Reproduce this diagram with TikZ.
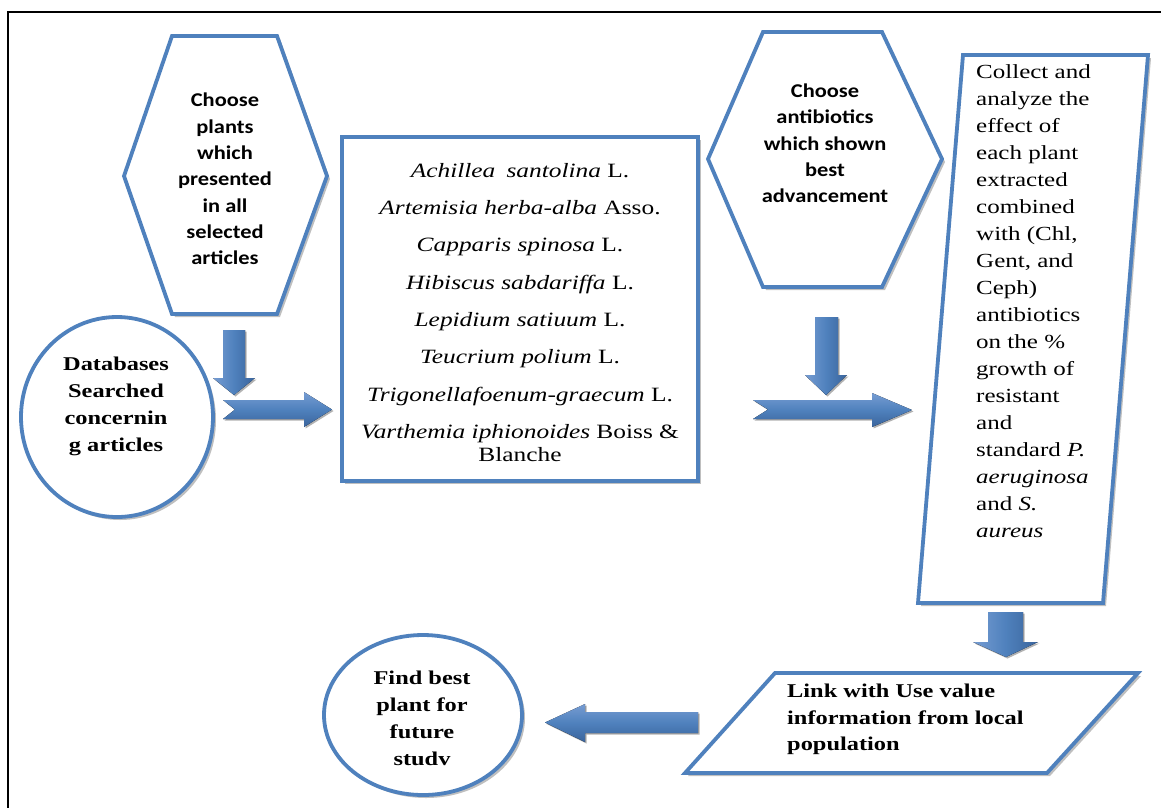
\documentclass[tikz,border=0pt]{standalone}
\usepackage{fontspec}
\setmainfont{Liberation Serif}
\newfontfamily\camf[FakeStretch=1.25]{Liberation Serif}
\newfontfamily\calf[FakeStretch=1.15]{Carlito}
\usetikzlibrary{shadows}
\definecolor{obl}{RGB}{79,129,189}
\definecolor{obllight}{RGB}{118,156,210}
\definecolor{obldark}{RGB}{58,100,156}
\tikzset{
  shapeline/.style={draw=obl, line width=3.8pt, fill=white, line join=miter,
    drop shadow={shadow xshift=3pt, shadow yshift=-3pt, fill=black!50, opacity=.5}},
  harrow/.style={top color=obllight, bottom color=obldark, middle color=obl,
    drop shadow={shadow xshift=1.5pt, shadow yshift=-1.5pt, fill=black!60, opacity=.5}},
  varrow/.style={left color=obllight, right color=obldark, middle color=obl,
    drop shadow={shadow xshift=1.5pt, shadow yshift=-1.5pt, fill=black!60, opacity=.5}},
  hextext/.style={align=center, inner sep=0pt, font=\calf\bfseries\fontsize{19.5}{26.3}\selectfont},
  circtext/.style={align=center, inner sep=0pt, font=\camf\bfseries\fontsize{19.5}{27}\selectfont},
  listtext/.style={align=center, inner sep=0pt, font=\camf\fontsize{20.3}{23}\selectfont},
  paratext/.style={align=left, inner sep=0pt, font=\camf\fontsize{20}{27}\selectfont},
  linktext/.style={align=left, inner sep=0pt, font=\camf\bfseries\fontsize{19.5}{26.5}\selectfont},
}
\begin{document}
\begin{tikzpicture}[x=1pt, y=-1pt]
\useasboundingbox (0,0) rectangle (1161,807);
\clip (0,0) rectangle (1161,807);
\fill[white] (0,0) rectangle (1161,807);
% outer frame (cut at right and bottom)
\draw[black, line width=2.6pt] (8,830) -- (8,12) -- (1190,12);

% hexagon 1
\draw[shapeline] (172,36) -- (277,36) -- (327,176) -- (277,314) -- (172,314) -- (124,176) -- cycle;
\node[hextext] (hexa) at (225,179) {Choose\\plants\\which\\presented\\in all\\selected\\articles};

% circle databases
\draw[shapeline] (117,417) ellipse [x radius=96, y radius=100];
\node[circtext] (db) at (116,406) {Databases\\Searched\\concernin\\g articles};

% species box
\draw[shapeline] (342,137) rectangle (698,481);
\node[listtext, anchor=north] (list) at (520,163) {%
\textit{Achillea\hspace{0.55em}santolina} L.\\[14.3pt]
\textit{Artemisia herba-alba} Asso.\\[14.3pt]
\textit{Capparis spinosa} L.\\[14.3pt]
\textit{Hibiscus sabdariffa} L.\\[14.3pt]
\textit{Lepidium satiuum} L.\\[14.3pt]
\textit{Teucrium polium} L.\\[14.3pt]
\textit{Trigonellafoenum-graecum} L.\\[14.3pt]
\textit{Varthemia iphionoides} Boiss \&\\
Blanche};

% hexagon 2
\draw[shapeline] (763,32) -- (882,32) -- (942,159) -- (882,287) -- (763,287) -- (708,159) -- cycle;
\node[hextext] (hexb) at (825,143.5) {Choose\\antibiotics\\which shown\\best\\advancement};

% tall parallelogram
\draw[shapeline] (963,55) -- (1148,55) -- (1103,603) -- (918,603) -- cycle;
\node[paratext, anchor=north west] (collect) at (976,64.5) {%
Collect and\\analyze the\\effect of\\each plant\\extracted\\combined\\with (Chl,\\Gent, and\\Ceph)\\antibiotics\\on the \%\\growth of\\resistant\\and\\standard \textit{P.}\\\textit{aeruginosa}\\and \textit{S.}\\\textit{aureus}};

% link parallelogram
\draw[shapeline] (775,673) -- (1138,673) -- (1047,773) -- (685,773) -- cycle;
\node[linktext, anchor=north west] (link) at (787,684) {Link with Use value\\information from local\\population};

% find best circle
\draw[shapeline] (423,715) ellipse [x radius=99, y radius=80];
\node[circtext] (find) at (422,718) {Find best\\plant for\\future\\studv};

% block arrows
\fill[varrow] (223,330) -- (245,330) -- (245,378) -- (255,378) -- (234,395) -- (213,378) -- (223,378) -- cycle;
\fill[harrow] (223,400) -- (304,400) -- (304,392) -- (332,409.5) -- (304,427) -- (304,419) -- (223,419) -- (235,409.5) -- cycle;
\fill[varrow] (815,317) -- (838,317) -- (838,375) -- (847,375) -- (826,395) -- (805,375) -- (815,375) -- cycle;
\fill[harrow] (753,400) -- (872,400) -- (872,393) -- (912,410) -- (872,427) -- (872,419) -- (753,419) -- (768,409.5) -- cycle;
\fill[varrow] (988,612) -- (1023,612) -- (1023,642) -- (1038,642) -- (1006,657) -- (973,642) -- (988,642) -- cycle;
\fill[harrow] (698,712) -- (585,712) -- (585,704) -- (545,722.5) -- (585,742) -- (585,733) -- (698,733) -- cycle;
\end{tikzpicture}
\end{document}
